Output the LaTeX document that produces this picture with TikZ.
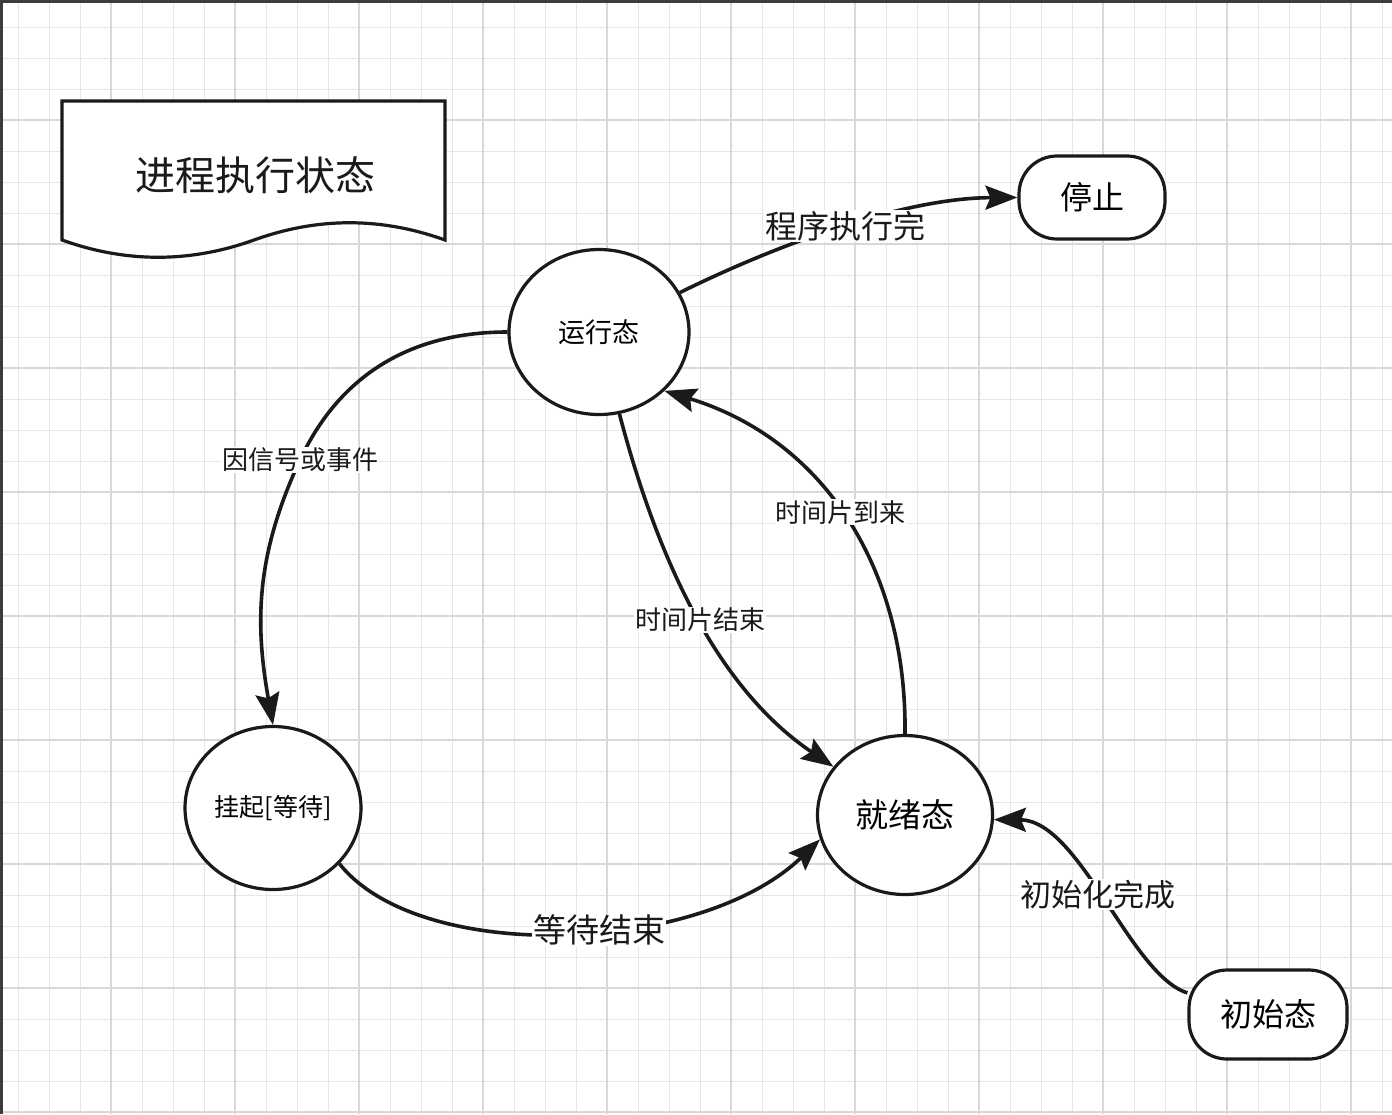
\documentclass[tikz,border=0pt]{standalone}
\usepackage{fontspec}
\setmainfont{Noto Sans CJK SC}
\usetikzlibrary{arrows.meta,shapes.geometric}
\definecolor{ink}{HTML}{1A1A1A}
\definecolor{gridminor}{HTML}{E6E6E6}
\definecolor{gridmajor}{HTML}{D8D8D8}
\tikzset{
  fs/.style={font=\fontsize{#1}{#1}\selectfont},
  statecirc/.style={ellipse, draw=ink, line width=3.2pt, fill=white, inner sep=0pt},
  endbox/.style={rectangle, rounded corners=38pt, draw=ink, line width=3.2pt, fill=white, inner sep=0pt},
  arr/.style={draw=ink, line width=3.6pt, -{Stealth[length=32pt,width=24pt,inset=5pt]}},
  lab/.style={fill=white, inner sep=1pt, text=ink}
}
\begin{document}
\begin{tikzpicture}[x=1pt,y=1pt]
\useasboundingbox (0,0) rectangle (1392,-1114);
\fill[white] (0,0) rectangle (1392,-1114);
% grid
\foreach \k in {0,...,44} \draw[gridminor, line width=1pt] ({18+31*\k},0) -- ({18+31*\k},-1114);
\foreach \k in {0,...,35} \draw[gridminor, line width=1pt] (0,{-27-31*\k}) -- (1392,{-27-31*\k});
\foreach \k in {3,7,...,43} \draw[gridmajor, line width=1.2pt] ({18+31*\k},0) -- ({18+31*\k},-1114);
\foreach \k in {3,7,...,35} \draw[gridmajor, line width=1.2pt] (0,{-27-31*\k}) -- (1392,{-27-31*\k});
% frame top and left
\draw[ink!85, line width=3pt] (0,-1.5) -- (1392,-1.5);
\draw[ink!85, line width=3pt] (1.5,0) -- (1.5,-1114);

% title document shape
\draw[ink, line width=3.2pt, fill=white, line join=miter]
  (62,-240) -- (62,-101) -- (445,-101) -- (445,-240)
  .. controls (381,-217) and (318,-217) .. (254,-240)
  .. controls (190,-263) and (126,-263) .. (62,-240) -- cycle;
\node[fs=40, text=ink] (title) at (255,-175) {进程执行状态};

% states
\node[statecirc, minimum width=180pt, minimum height=165pt, fs=27] (run) at (599,-332) {运行态};
\node[statecirc, minimum width=176pt, minimum height=163pt, fs=25] (hang) at (273,-808) {挂起[等待]};
\node[statecirc, minimum width=175pt, minimum height=159pt, fs=33] (ready) at (905,-815) {就绪态};
\node[endbox, minimum width=146pt, minimum height=83pt, fs=32] (stop) at (1092,-197.5) {停止};
\node[endbox, minimum width=158pt, minimum height=89pt, fs=32] (init) at (1268,-1014.5) {初始态};

\coordinate (pA) at (300,-460);

% edges
\draw[arr] (run.26) .. controls (770,-248) and (900,-198) .. (stop.west)
  node[lab, fs=32, pos=0.52] {程序执行完};
\draw[arr] (run.west) .. controls (413,-332) and (340.6,-373) .. (pA)
  .. controls (255.8,-554.9) and (254.8,-622.9) .. (hang.north);
\node[lab, fs=26] at (pA) {因信号或事件};
\draw[arr] (run.-76) .. controls (650,-530) and (705,-680) .. (ready.146)
  node[lab, fs=26, pos=0.55] {时间片结束};
\draw[arr] (ready.north) .. controls (907,-570) and (825,-440) .. (run.-42)
  node[lab, fs=26, pos=0.52] {时间片到来};
\draw[arr] (hang.-40) .. controls (420,-965) and (700,-955) .. (ready.196)
  node[lab, fs=33, pos=0.56] {等待结束};
\draw[arr] (init.165) .. controls (1130,-975) and (1080,-820) .. (ready.-3)
  node[lab, fs=31, pos=0.52] {初始化完成};
\end{tikzpicture}
\end{document}
